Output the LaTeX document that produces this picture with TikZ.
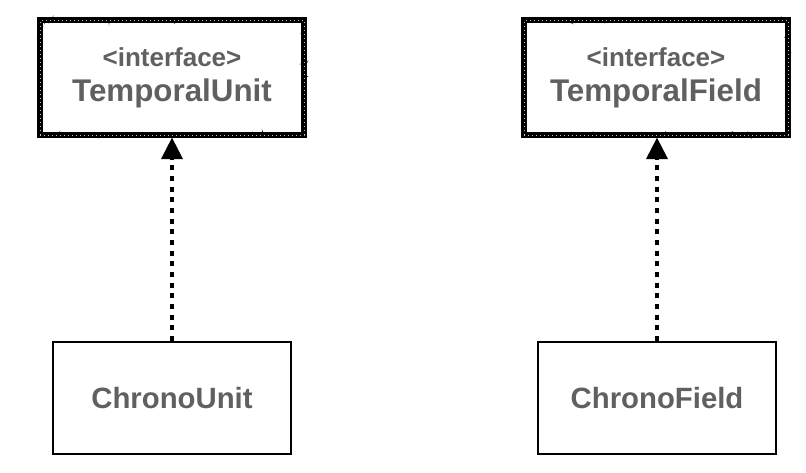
\documentclass[tikz,border=0pt]{standalone}
\usepackage{fontspec}
\setmainfont{Liberation Sans}
\usetikzlibrary{arrows.meta, decorations.pathmorphing}
\definecolor{LabelGray}{RGB}{96,96,96}

\tikzset{
  ifacebox/.style={draw, line width=4.3pt, minimum width=198pt, minimum height=86pt,
    align=center, text=LabelGray, font=\fontsize{23.5}{26}\selectfont\bfseries,
    postaction={draw, decorate, decoration={random steps, segment length=1.2pt, amplitude=1.4pt}, line width=0.8pt},
    postaction={draw, decorate, decoration={random steps, segment length=1.7pt, amplitude=1.2pt}, line width=0.6pt},
    postaction={draw=white!75!black, line width=0.35pt, dash pattern=on 0.7pt off 2.3pt}},
  classbox/.style={draw, line width=1.5pt, minimum width=178.5pt, minimum height=84pt,
    text=LabelGray, font=\fontsize{22}{26}\selectfont\bfseries},
  realizes/.style={line width=3pt, dash pattern=on 3.8pt off 4.2pt,
    -{Triangle[length=16pt, width=16.5pt, line width=0pt]}, shorten >=0pt}
}

\begin{document}
\begin{tikzpicture}[x=0.75pt, y=-0.75pt]
  \useasboundingbox (0,0) rectangle (806,472);
  % left pair
  \node[ifacebox] (unitIface) at (172,77.5)
    {{\fontsize{19.5}{26}\selectfont <interface>}\\TemporalUnit};
  \node[classbox] (chronoUnit) at (172,398) {ChronoUnit};
  \draw[realizes] (chronoUnit.north) -- (unitIface.south);
  % right pair
  \node[ifacebox] (fieldIface) at (656,77.5)
    {{\fontsize{19.5}{26}\selectfont <interface>}\\TemporalField};
  \node[classbox] (chronoField) at (657,398) {ChronoField};
  \draw[realizes] (chronoField.north) -- (chronoField.north |- fieldIface.south);
\end{tikzpicture}
\end{document}
